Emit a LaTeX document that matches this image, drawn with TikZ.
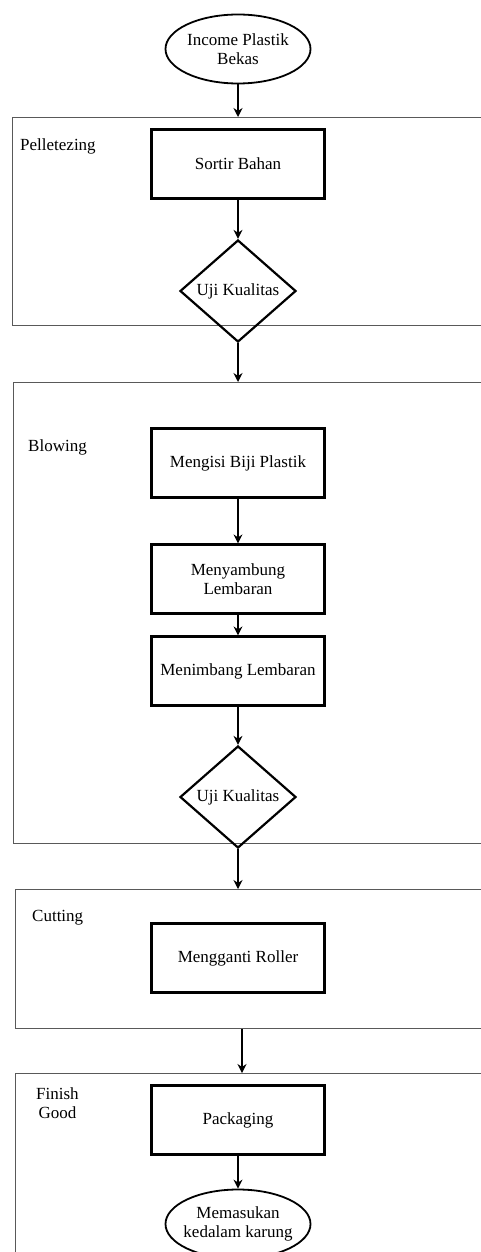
\documentclass[tikz,border=0pt]{standalone}
\usepackage{fontspec}
\setmainfont{Liberation Serif}
\usetikzlibrary{positioning, calc, shapes.geometric, arrows.meta}

\tikzset{
  every node/.style={font=\fontsize{17}{19}\selectfont},
  proses/.style={draw, line width=2.2pt, minimum width=173pt, minimum height=69pt, align=center, inner sep=2pt},
  ujibox/.style={diamond, draw, line width=2.2pt, minimum width=116pt, minimum height=92pt, inner sep=1pt},
  terminal/.style={ellipse, draw, line width=1.8pt, minimum width=145pt, minimum height=69pt, align=center, inner xsep=-15pt, inner ysep=0pt},
  fase/.style={draw=black!65, line width=1.4pt, anchor=north west, minimum width=510pt, inner sep=0pt},
  fasetext/.style={anchor=west, align=center, inner sep=0pt},
  alur/.style={-{Stealth[length=9pt,width=9pt]}, line width=1.3pt},
}

\begin{document}
\begin{tikzpicture}[x=1pt, y=-1pt]
    \useasboundingbox (0,0) rectangle (481,1252);
    \clip (0,0) rectangle (481,1252);

    % fase
    \node[fase, minimum height=208pt] (pellet) at (12,117) {};
    \node[fase, minimum height=461pt] (blowing) at (13,382) {};
    \node[fase, minimum height=139pt] (cutting) at (15,889) {};
    \node[fase, minimum height=220pt] (finish) at (15,1073) {};
    \node[fasetext] (lblpellet) at (20,146) {Pelletezing};
    \node[fasetext] (lblblowing) at (28,447) {Blowing};
    \node[fasetext] (lblcutting) at (32,918) {Cutting};
    \node[fasetext] (lblfinish) at (36,1103) {Finish\\Good};

    % langkah
    \node[terminal] (mulai) at (238,49) {Income Plastik\\Bekas};
    \node[proses] (sortir) at (238,164) {Sortir Bahan};
    \node[ujibox] (uji1) at (238,291) {Uji Kualitas};
    \node[proses] (isi) at (238,463) {Mengisi Biji Plastik};
    \node[proses] (sambung) at (238,579) {Menyambung\\Lembaran};
    \node[proses] (timbang) at (238,671) {Menimbang Lembaran};
    \node[ujibox] (uji2) at (238,797) {Uji Kualitas};
    \node[proses] (roller) at (238,958) {Mengganti Roller};
    \node[proses] (packing) at (238,1120) {Packaging};
    \node[terminal] (karung) at (238,1224) {Memasukan\\kedalam karung};

    % alur
    \draw[alur] (mulai) -- (mulai |- pellet.north);
    \draw[alur] (sortir) -- (uji1);
    \draw[alur] (uji1) -- (uji1 |- blowing.north);
    \draw[alur] (isi) -- (sambung);
    \draw[alur] (sambung) -- (timbang);
    \draw[alur] (timbang) -- (uji2);
    \draw[alur] (uji2) -- (uji2 |- cutting.north);
    \draw[alur] ($(roller |- cutting.south)+(4,0)$) -- ($(roller |- finish.north)+(4,0)$);
    \draw[alur] (packing) -- (karung);
\end{tikzpicture}
\end{document}
